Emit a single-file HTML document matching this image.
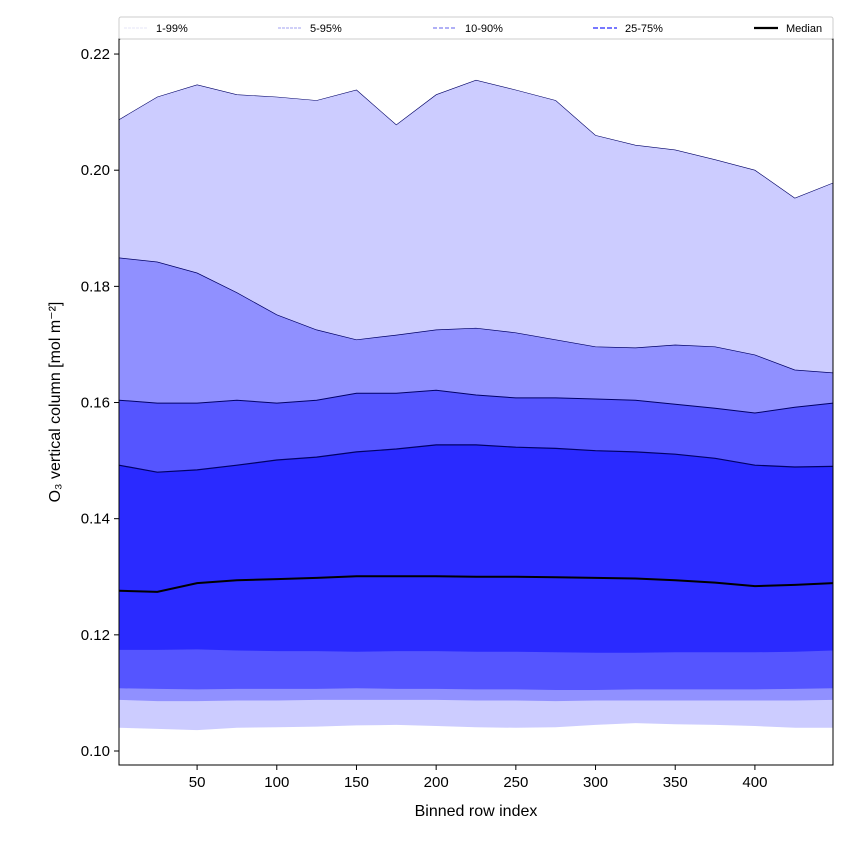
<!DOCTYPE html>
<html><head><meta charset="utf-8"><style>
body{margin:0;background:#fff;}
svg text{font-family:"Liberation Sans","DejaVu Sans",sans-serif;}
</style></head><body>
<svg id="chart" width="850" height="850" xmlns="http://www.w3.org/2000/svg"></svg>
<script>
const xs   = [1,25,50,75,100,125,150,175,200,225,250,275,300,325,350,375,400,425,449];
const p99  = [0.2087,0.2126,0.2147,0.2130,0.2126,0.2120,0.2138,0.2078,0.2130,0.2155,0.2138,0.2120,0.2060,0.2043,0.2035,0.2018,0.2000,0.1952,0.1978];
const p95  = [0.1849,0.1842,0.1823,0.1789,0.1751,0.1725,0.1708,0.1716,0.1725,0.1728,0.1720,0.1708,0.1696,0.1694,0.1699,0.1696,0.1682,0.1656,0.1651];
const p90  = [0.1604,0.1599,0.1599,0.1604,0.1599,0.1604,0.1616,0.1616,0.1621,0.1613,0.1608,0.1608,0.1606,0.1604,0.1597,0.1590,0.1582,0.1592,0.1599];
const p75  = [0.1492,0.1480,0.1484,0.1492,0.1501,0.1506,0.1515,0.1520,0.1527,0.1527,0.1523,0.1521,0.1517,0.1515,0.1511,0.1504,0.1492,0.1489,0.1490];
const p50  = [0.1276,0.1274,0.1289,0.1294,0.1296,0.1298,0.1301,0.1301,0.1301,0.1300,0.1300,0.1299,0.1298,0.1297,0.1294,0.1290,0.1284,0.1286,0.1289];
const p25  = [0.1174,0.1174,0.1175,0.1173,0.1172,0.1172,0.1171,0.1172,0.1172,0.1171,0.1171,0.1170,0.1169,0.1169,0.1170,0.1170,0.1170,0.1171,0.1173];
const p10  = [0.1108,0.1107,0.1106,0.1107,0.1107,0.1107,0.1108,0.1107,0.1107,0.1106,0.1106,0.1105,0.1105,0.1106,0.1106,0.1106,0.1106,0.1107,0.1108];
const p05  = [0.1088,0.1086,0.1086,0.1087,0.1087,0.1088,0.1088,0.1088,0.1088,0.1087,0.1087,0.1086,0.1087,0.1087,0.1087,0.1087,0.1087,0.1087,0.1088];
const p01  = [0.1040,0.1038,0.1036,0.1040,0.1041,0.1042,0.1044,0.1045,0.1043,0.1041,0.1040,0.1041,0.1045,0.1048,0.1046,0.1045,0.1043,0.1040,0.1040];
const xTicks = [50,100,150,200,250,300,350,400];
const yTicks = [0.10,0.12,0.14,0.16,0.18,0.20,0.22];
const legendLabels = ["1-99%","5-95%","10-90%","25-75%","Median"];

const L=119,R=833,T=39,B=765;
const X=v=>L+(v-1)*(R-L)/448;
const Y=v=>751-(v-0.10)*5808;
const svg=document.getElementById('chart');
const NS='http://www.w3.org/2000/svg';
function mk(tag,attrs,parent){const e=document.createElementNS(NS,tag);for(const k in attrs)e.setAttribute(k,attrs[k]);(parent||svg).appendChild(e);return e;}
function line(arr){return xs.map((x,i)=>X(x).toFixed(1)+','+Y(arr[i]).toFixed(1));}
function band(up,lo,color,name){
  const pts=line(up).concat(line(lo).reverse()).join(' ');
  const p=mk('polygon',{points:pts,fill:color});
  
  
}
band(p99,p01,'#ccccff','band-1-99');
band(p95,p05,'#9090ff','band-5-95');
band(p90,p10,'#5555ff','band-10-90');
band(p75,p25,'#2a2aff','band-25-75');
[[p99,'line-p99',0.6],[p95,'line-p95',0.7],[p90,'line-p90',1],[p75,'line-p75',1.2]].forEach(([a,n,w])=>{
  const e=mk('polyline',{points:line(a).join(' '),fill:'none',stroke:'#000066','stroke-width':w});
  
  
});
const med=mk('polyline',{points:line(p50).join(' '),fill:'none',stroke:'#000','stroke-width':2});



const frame=mk('rect',{x:L,y:T,width:R-L,height:B-T,fill:'none',stroke:'#000','stroke-width':1});



xTicks.forEach(t=>{
  const g=mk('g',{});
  
  
  mk('line',{x1:X(t),x2:X(t),y1:B,y2:B+5,stroke:'#000'},g);
  const tx=mk('text',{x:X(t),y:B+22,'text-anchor':'middle','font-size':15},g);tx.textContent=t;
});
yTicks.forEach(t=>{
  const g=mk('g',{});
  
  
  mk('line',{x1:L-5,x2:L,y1:Y(t),y2:Y(t),stroke:'#000'},g);
  const tx=mk('text',{x:L-9,y:Y(t)+5,'text-anchor':'end','font-size':15},g);tx.textContent=t.toFixed(2);
});
const xt=mk('text',{x:(L+R)/2,y:816,'text-anchor':'middle','font-size':16});xt.textContent='Binned row index';


const yt=mk('text',{x:0,y:0,'text-anchor':'middle','font-size':16,transform:'translate(60,402) rotate(-90)'});yt.textContent='O₃ vertical column [mol m⁻²]';



// legend
const lg=mk('g',{});


mk('rect',{x:119,y:17,width:714,height:22,fill:'#fff',stroke:'#ccc','stroke-width':1,rx:2},lg);
const lx=[124,278,433,593,754];
const styles=[['#ddddf5',0.8,'3,1'],['#a0a0f0',1,'3,1'],['#8080f0',1.3,'4,2'],['#6666ff',1.8,'5,2'],['#000',2.2,'']];
legendLabels.forEach((lab,i)=>{
  const g=mk('g',{},lg);
  
  
  mk('line',{x1:lx[i],x2:lx[i]+24,y1:28,y2:28,stroke:styles[i][0],'stroke-width':styles[i][1],'stroke-dasharray':styles[i][2]},g);
  const t=mk('text',{x:lx[i]+32,y:32,'font-size':11},g);t.textContent=lab;
});
</script>
</body></html>
